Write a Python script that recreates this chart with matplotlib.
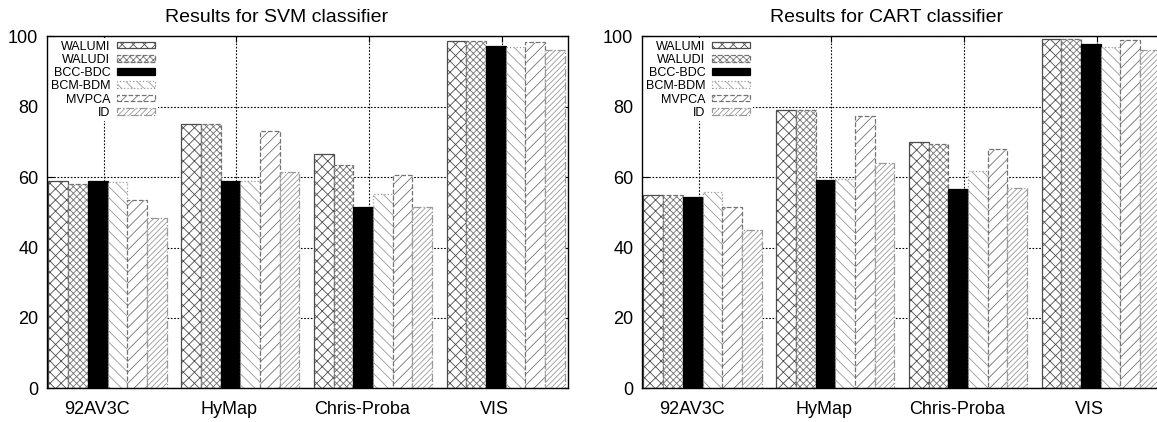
import matplotlib
matplotlib.use('Agg')
import matplotlib.pyplot as plt
import matplotlib.transforms as mtransforms
import numpy as np

# Data
datasets = ['92AV3C', 'HyMap', 'Chris-Proba', 'VIS']
methods = ['WALUMI', 'WALUDI', 'BCC-BDC', 'BCM-BDM', 'MVPCA', 'ID']

svm_walumi = [58.8, 75.1, 66.7, 98.6]
svm_waludi = [57.9, 75.1, 63.5, 98.6]
svm_bcc = [58.8, 59.0, 51.4, 97.3]
svm_bcm = [58.6, 59.0, 55.2, 96.9]
svm_mvpca = [53.6, 73.2, 60.7, 98.3]
svm_id = [48.5, 61.5, 51.4, 96.2]

cart_walumi = [55.0, 79.1, 69.9, 99.1]
cart_waludi = [54.9, 79.1, 69.4, 99.1]
cart_bcc = [54.4, 59.2, 56.7, 97.7]
cart_bcm = [55.7, 59.5, 61.6, 97.0]
cart_mvpca = [51.5, 77.5, 67.9, 99.0]
cart_id = [45.1, 64.1, 56.8, 96.2]

svm = [svm_walumi, svm_waludi, svm_bcc, svm_bcm, svm_mvpca, svm_id]
cart = [cart_walumi, cart_waludi, cart_bcc, cart_bcm, cart_mvpca, cart_id]

# bar styles (gnuplot-like patterns)
styles = [
    dict(facecolor='white', edgecolor='0.3', hatch='xxx', linestyle='-'),
    dict(facecolor='white', edgecolor='0.45', hatch='xxxxx', linestyle='--'),
    dict(facecolor='black', edgecolor='black', hatch=None, linestyle='-'),
    dict(facecolor='white', edgecolor='0.6', hatch='\\\\\\', linestyle=':'),
    dict(facecolor='white', edgecolor='0.45', hatch='///', linestyle='--'),
    dict(facecolor='white', edgecolor='0.6', hatch='//////', linestyle='-.'),
]

plt.rcParams['font.family'] = ['Liberation Sans', 'DejaVu Sans']
plt.rcParams['hatch.linewidth'] = 0.6

fig = plt.figure(figsize=(11.57, 4.22), dpi=100)
W, H = 1157, 422
ax1 = fig.add_axes([46.7 / W, (H - 388.3) / H, 521.6 / W, 352 / H])
ax2 = fig.add_axes([641.7 / W, (H - 388.3) / H, 521.6 / W, 352 / H])

bar_w = 0.1485
x = np.arange(len(datasets))


def draw(ax, data, title, title_x):
    for i, (vals, st) in enumerate(zip(data, styles)):
        offs = (i - 2.5) * bar_w
        ax.bar(x + offs, vals, bar_w, label=methods[i], linewidth=0.9,
               zorder=3, **st)
    ax.set_xlim(-0.459, 3.471)
    ax.set_ylim(0, 100)
    ax.set_yticks([0, 20, 40, 60, 80, 100])
    ax.set_xticks(x - 0.03)
    ax.set_xticklabels(datasets)
    ax.tick_params(direction='in', top=True, right=True, length=5,
                   labelsize=13, pad=6)
    ax.tick_params(axis='x', length=4, pad=9)
    for lbl in ax.get_xticklabels():
        lbl.set_transform(lbl.get_transform() +
                          mtransforms.ScaledTranslation(-0.07, 0, fig.dpi_scale_trans))
    ax.grid(True, color='black', linestyle=(0, (1.5, 1.5)), linewidth=0.8)
    ax.set_axisbelow(True)
    for sp in ax.spines.values():
        sp.set_linewidth(1.0)
        sp.set_zorder(6)
    fig.text(title_x, 1 - 18 / H, title, ha='center', va='center', fontsize=14)
    leg = ax.legend(loc='upper left', bbox_to_anchor=(0.003, 0.995),
                    markerfirst=False, fontsize=9, handlelength=3.1,
                    handleheight=0.45, labelspacing=0.1, handletextpad=0.5,
                    borderpad=0.2, borderaxespad=0, frameon=True,
                    fancybox=False, edgecolor='none', facecolor='white',
                    framealpha=1)
    leg.set_zorder(5)


draw(ax1, svm, 'Results for SVM classifier', 277 / W)
draw(ax2, cart, 'Results for CART classifier', 887 / W)

plt.savefig('out.png', dpi=100)
